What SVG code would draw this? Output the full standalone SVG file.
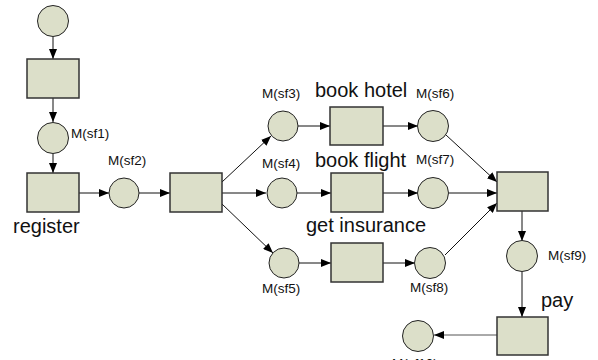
<svg xmlns="http://www.w3.org/2000/svg" width="598" height="360" viewBox="0 0 598 360">
<style>
.p{fill:#dcdfc9;stroke:#222;stroke-width:1}
.t{fill:#dcdfc9;stroke:#333;stroke-width:1.5}
.e{stroke:#111;stroke-width:1;fill:none;marker-end:url(#ah)}
.s{font-family:"Liberation Sans",Arial,sans-serif;font-size:13.5px;fill:#111}
.l{font-family:"Liberation Sans",Arial,sans-serif;font-size:20px;fill:#111}
</style>
<defs>
<marker id="ah" viewBox="0 0 10 8" refX="10" refY="4" markerWidth="10" markerHeight="8" markerUnits="userSpaceOnUse" orient="auto">
<path d="M0,0 L10,4 L0,8 z" fill="#000"/>
</marker>
</defs>
<rect width="598" height="360" fill="#fff"/>
<g id="connectors">
<line class="e" x1="53" y1="37" x2="53" y2="59"/>
<line class="e" x1="53" y1="98" x2="53" y2="122"/>
<line class="e" x1="53" y1="154" x2="53" y2="173"/>
<line class="e" x1="79" y1="193" x2="109" y2="193"/>
<line class="e" x1="139" y1="193" x2="170" y2="193"/>
<line class="e" x1="222" y1="182" x2="271" y2="136"/>
<line class="e" x1="222" y1="193" x2="266" y2="193"/>
<line class="e" x1="222" y1="204" x2="273" y2="253"/>
<line class="e" x1="298" y1="126" x2="330" y2="126"/>
<line class="e" x1="297" y1="193" x2="331" y2="193"/>
<line class="e" x1="299" y1="263" x2="331" y2="263"/>
<line class="e" x1="383" y1="126" x2="418" y2="126"/>
<line class="e" x1="383" y1="193" x2="418" y2="193"/>
<line class="e" x1="383" y1="263" x2="415" y2="263"/>
<line class="e" x1="446" y1="135" x2="497" y2="182"/>
<line class="e" x1="449" y1="193" x2="497" y2="193"/>
<line class="e" x1="445" y1="255" x2="497" y2="203"/>
<line class="e" x1="522" y1="211" x2="522" y2="241"/>
<line class="e" x1="522" y1="272" x2="522" y2="317"/>
<line class="e" x1="497" y1="335" x2="434" y2="335" style="stroke:#555"/>
</g>
<g id="p0"><circle class="p" cx="53" cy="21" r="15.5"/></g>
<g id="t0"><rect class="t" x="27" y="59" width="52" height="39"/></g>
<g id="sf1"><circle class="p" cx="53" cy="138" r="15.5"/><text class="s" x="71" y="138">M(sf1)</text></g>
<g id="register"><rect class="t" x="27" y="173" width="52" height="39"/><text class="l" x="13" y="233">register</text></g>
<g id="sf2"><circle class="p" cx="124" cy="193" r="15"/><text class="s" x="108" y="165">M(sf2)</text></g>
<g id="fork"><rect class="t" x="170" y="173" width="52" height="39"/></g>
<g id="sf3"><circle class="p" cx="283" cy="126" r="15"/><text class="s" x="262" y="98">M(sf3)</text></g>
<g id="sf4"><circle class="p" cx="282" cy="193" r="15"/><text class="s" x="262" y="168">M(sf4)</text></g>
<g id="sf5"><circle class="p" cx="284" cy="263" r="15"/><text class="s" x="262" y="293">M(sf5)</text></g>
<g id="hotel"><rect class="t" x="330" y="107" width="53" height="38"/><text class="l" x="315" y="97">book hotel</text></g>
<g id="flight"><rect class="t" x="331" y="173" width="52" height="39"/><text class="l" x="315" y="167">book flight</text></g>
<g id="insurance"><rect class="t" x="331" y="243" width="52" height="39"/><text class="l" x="306" y="232">get insurance</text></g>
<g id="sf6"><circle class="p" cx="433" cy="126" r="15.5"/><text class="s" x="416" y="98">M(sf6)</text></g>
<g id="sf7"><circle class="p" cx="433" cy="193" r="15.5"/><text class="s" x="416" y="164">M(sf7)</text></g>
<g id="sf8"><circle class="p" cx="430" cy="263" r="15.5"/><text class="s" x="410" y="292">M(sf8)</text></g>
<g id="join"><rect class="t" x="497" y="172" width="51" height="39"/></g>
<g id="sf9"><circle class="p" cx="522" cy="256" r="15.5"/><text class="s" x="548" y="260">M(sf9)</text></g>
<g id="pay"><rect class="t" x="497" y="317" width="51" height="38"/><text class="l" x="541" y="307">pay</text></g>
<g id="sf10"><circle class="p" cx="418" cy="336" r="15.5"/><text class="s" x="392" y="368">M(sf10)</text></g>
</svg>
